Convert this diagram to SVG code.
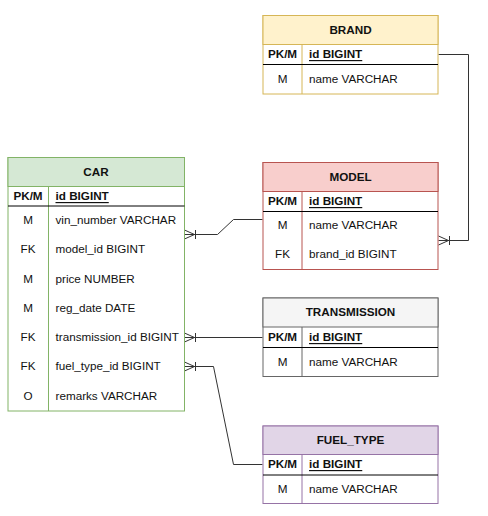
<svg xmlns="http://www.w3.org/2000/svg" width="488" height="516" viewBox="0 0 488 516">
<style>
text{font-family:"Liberation Sans",Arial,sans-serif;font-size:11.7px;fill:#111;dominant-baseline:central;transform:translate(0px,-1px)}
.h{font-weight:bold;text-anchor:middle}
.k{text-anchor:middle}
.pk{font-weight:bold}
.u{font-weight:bold;text-decoration:underline}
.body{fill:#fff}
.sep{stroke:#000;stroke-width:1}
.edge{fill:none;stroke:#333;stroke-width:1}
</style>
<defs>
<marker id="cf" markerUnits="userSpaceOnUse" orient="auto" markerWidth="16" markerHeight="14" refX="0" refY="7" viewBox="0 0 16 14" overflow="visible">
<path d="M0,2.5 L10,7 L0,11.5 M11,2.5 V11.5" fill="none" stroke="#333" stroke-width="1"/>
</marker>
</defs>

<g id="connectors">
<path class="edge" marker-start="url(#cf)" d="M184.5,234.5 H217.5 L233.5,219.5 H262.5"/>
<path class="edge" marker-start="url(#cf)" d="M184.5,337.5 H262.5"/>
<path class="edge" marker-start="url(#cf)" d="M184.5,366.5 H213.5 L233.5,464.5 H262.5"/>
<path class="edge" marker-start="url(#cf)" d="M438.5,240.5 H468.5 V54.5 H438.5"/>
</g>

<g id="brand">
<rect x="263" y="15.5" width="175" height="78.5" class="body" stroke="#d6b656"/>
<rect x="263" y="15.5" width="175" height="29" fill="#fff2cc" stroke="#d6b656"/>
<line x1="302" y1="44.5" x2="302" y2="94" stroke="#d6b656"/>
<line x1="263" y1="64.5" x2="438" y2="64.5" class="sep"/>
<text x="350.5" y="30" class="h">BRAND</text>
<text x="282.5" y="54.5" class="h">PK/M</text>
<text x="309" y="54.5" class="u">id BIGINT</text>
<text x="282.5" y="79" class="k">M</text>
<text x="309" y="79">name VARCHAR</text>
</g>

<g id="model">
<rect x="263" y="162.5" width="175" height="107" class="body" stroke="#b85450"/>
<rect x="263" y="162.5" width="175" height="29" fill="#f8cecc" stroke="#b85450"/>
<line x1="302" y1="191.5" x2="302" y2="269.5" stroke="#b85450"/>
<line x1="263" y1="211.5" x2="438" y2="211.5" class="sep"/>
<text x="350.5" y="177" class="h">MODEL</text>
<text x="282.5" y="201.5" class="h">PK/M</text>
<text x="309" y="201.5" class="u">id BIGINT</text>
<text x="282.5" y="225.5" class="k">M</text>
<text x="309" y="225.5">name VARCHAR</text>
<text x="282.5" y="254.5" class="k">FK</text>
<text x="309" y="254.5">brand_id BIGINT</text>
</g>

<g id="car">
<rect x="8" y="157.5" width="176.5" height="253.5" class="body" stroke="#82b366"/>
<rect x="8" y="157.5" width="176.5" height="29" fill="#d5e8d4" stroke="#82b366"/>
<line x1="48.5" y1="186.5" x2="48.5" y2="411" stroke="#82b366"/>
<line x1="8" y1="206" x2="184.5" y2="206" class="sep"/>
<text x="96" y="172" class="h">CAR</text>
<text x="28" y="196.5" class="h">PK/M</text>
<text x="55.5" y="196.5" class="u">id BIGINT</text>
<text x="28" y="220.5" class="k">M</text>
<text x="55.5" y="220.5">vin_number VARCHAR</text>
<text x="28" y="249.5" class="k">FK</text>
<text x="55.5" y="249.5">model_id BIGINT</text>
<text x="28" y="279" class="k">M</text>
<text x="55.5" y="279">price NUMBER</text>
<text x="28" y="308.5" class="k">M</text>
<text x="55.5" y="308.5">reg_date DATE</text>
<text x="28" y="337.5" class="k">FK</text>
<text x="55.5" y="337.5">transmission_id BIGINT</text>
<text x="28" y="366.5" class="k">FK</text>
<text x="55.5" y="366.5">fuel_type_id BIGINT</text>
<text x="28" y="396" class="k">O</text>
<text x="55.5" y="396">remarks VARCHAR</text>
</g>

<g id="transmission">
<rect x="263" y="298" width="175" height="78.5" class="body" stroke="#666666"/>
<rect x="263" y="298" width="175" height="29" fill="#f5f5f5" stroke="#666666"/>
<line x1="302" y1="327" x2="302" y2="376.5" stroke="#666666"/>
<line x1="263" y1="347.5" x2="438" y2="347.5" class="sep"/>
<text x="350.5" y="312.5" class="h">TRANSMISSION</text>
<text x="282.5" y="337.5" class="h">PK/M</text>
<text x="309" y="337.5" class="u">id BIGINT</text>
<text x="282.5" y="362" class="k">M</text>
<text x="309" y="362">name VARCHAR</text>
</g>

<g id="fuel_type">
<rect x="263" y="426" width="175" height="77.5" class="body" stroke="#9673a6"/>
<rect x="263" y="426" width="175" height="28.5" fill="#e1d5e7" stroke="#9673a6"/>
<line x1="302" y1="454.5" x2="302" y2="503.5" stroke="#9673a6"/>
<line x1="263" y1="475" x2="438" y2="475" class="sep"/>
<text x="350.5" y="440" class="h">FUEL_TYPE</text>
<text x="282.5" y="464.5" class="h">PK/M</text>
<text x="309" y="464.5" class="u">id BIGINT</text>
<text x="282.5" y="489.5" class="k">M</text>
<text x="309" y="489.5">name VARCHAR</text>
</g>
</svg>
